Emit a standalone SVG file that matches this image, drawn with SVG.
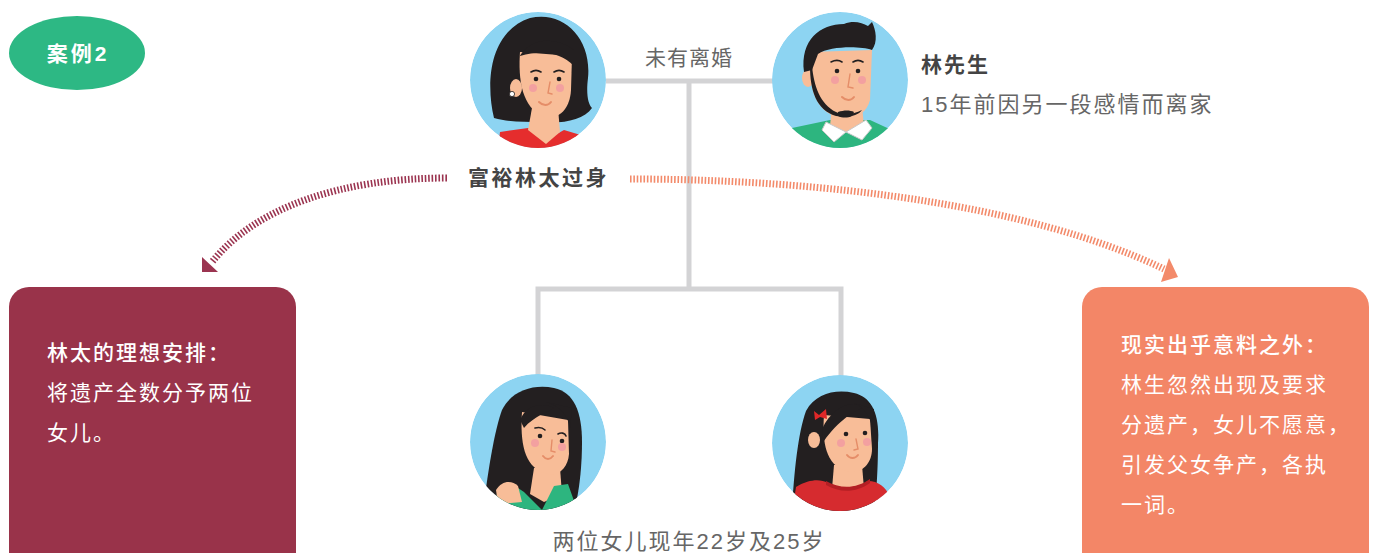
<svg xmlns="http://www.w3.org/2000/svg" width="1375" height="553" viewBox="0 0 1375 553">
  <style>
    .txt { font-family: "Liberation Sans", "Noto Sans CJK SC", sans-serif; }
    .gray { fill: #666; }
    .dark { fill: #444; font-weight: bold; }
    .white { fill: #fff; }
    .link { fill: none; stroke: #d3d3d5; stroke-width: 5; }
    .bg { fill: #8dd4f2; }
    .hair { fill: #231f20; }
    .skin { fill: #f8bd98; }
    .cheek { fill: #f3a0a0; }
    .eye { fill: #231f20; }
    .nose { fill: none; stroke: #e58d68; stroke-width: 1.4; stroke-linecap: round; }
    .mouth { fill: none; stroke: #e58d68; stroke-width: 2; stroke-linecap: round; }
    .brow { fill: none; stroke: #231f20; stroke-width: 1.6; stroke-linecap: round; }
  </style>
  <defs>
    <clipPath id="clip"><circle cx="0" cy="0" r="68"/></clipPath>
  </defs>

  <!-- badge -->
  <g id="badge">
    <ellipse cx="77" cy="53" rx="68" ry="37" fill="#2db884"/>
    <text class="txt white" x="78" y="61" font-size="21" font-weight="bold" text-anchor="middle" letter-spacing="3">案例2</text>
  </g>

  <!-- family tree lines -->
  <g id="connectors">
    <path class="link" d="M606,81 H774"/>
    <path class="link" d="M689,81 V289"/>
    <path class="link" d="M538,376 V289 H841 V376"/>
    <path d="M447,178 C340,178 255,208 212,262" fill="none" stroke="#9b3450" stroke-width="7" stroke-dasharray="1.6 1.8"/>
    <polygon points="202,257 202,272 218,272" fill="#9b3450"/>
    <path d="M630,179 C800,179 1020,200 1164,269" fill="none" stroke="#f38a6a" stroke-width="7" stroke-dasharray="1.6 1.8"/>
    <polygon points="1169,258 1178,277 1161,282" fill="#f38a6a"/>
  </g>

  <text class="txt gray" x="689" y="65" font-size="21" text-anchor="middle" letter-spacing="1">未有离婚</text>

  <!-- mother -->
  <g id="mother" transform="translate(538,80)">
    <g clip-path="url(#clip)">
      <circle class="bg" r="68"/>
      <path class="hair" d="M-44,38 C-52,5 -50,-48 -8,-62 C25,-70 54,-42 50,-2 C48,14 50,24 54,28 C46,40 24,44 4,42 C-14,42 -30,42 -44,38 Z"/>
      <path d="M-40,70 L-38,52 L-10,48 L8,60 L26,50 L46,56 L48,70 Z" fill="#e52d2d"/>
      <path class="skin" d="M-6,28 L20,28 L22,52 L8,64 L-10,50 Z"/>
      <path class="skin" d="M-18,-28 C-20,0 -16,28 6,37 C22,40 32,28 33,10 L34,-24 Z"/>
      <ellipse class="skin" cx="-22" cy="8" rx="6" ry="9"/>
      <circle cx="-26" cy="14" r="2.6" fill="#fff" stroke="#231f20" stroke-width="0.8"/>
      <path class="hair" d="M-20,-20 C-12,-40 14,-46 36,-30 L36,-14 C22,-28 4,-30 -18,-24 Z"/>
      <path class="brow" d="M-7,-8 C-4,-10 0,-10 3,-8"/>
      <path class="brow" d="M16,-8 C19,-10 23,-10 26,-8"/>
      <circle class="eye" cx="-2" cy="-1" r="2.3"/>
      <circle class="eye" cx="21" cy="-1" r="2.3"/>
      <circle class="cheek" cx="-5" cy="8" r="4"/>
      <circle class="cheek" cx="22" cy="8" r="4"/>
      <path class="nose" d="M12,2 L10,13 L14,14"/>
      <path class="mouth" d="M1,22 C5,26 10,26 13,22"/>
    </g>
  </g>
  <text class="txt dark" x="468" y="185" font-size="21" letter-spacing="2.5">富裕林太过身</text>

  <!-- father -->
  <g id="father" transform="translate(840,80)">
    <g clip-path="url(#clip)">
      <circle class="bg" r="68"/>
      <path d="M-60,70 L-48,48 L-10,40 L30,40 L56,52 L64,70 Z" fill="#2db57f"/>
      <path class="skin" d="M-8,26 L22,26 L24,46 L6,52 L-10,46 Z"/>
      <path d="M-14,42 L6,52 L-6,62 L-18,50 Z M26,40 L6,52 L22,60 L32,48 Z" fill="#fff" stroke="#c8c8c8" stroke-width="1"/>
      <path class="skin" d="M-30,-28 C-32,5 -26,28 -6,36 C10,42 26,36 30,20 L32,-30 Z"/>
      <ellipse class="skin" cx="-32" cy="-2" rx="6" ry="9"/>
      <path class="hair" d="M-36,-8 C-40,-40 -20,-56 4,-56 C14,-60 22,-57 28,-54 L32,-58 C36,-50 38,-38 32,-30 C20,-34 -10,-34 -22,-26 L-28,-10 Z"/>
      <path d="M-30,-14 C-30,10 -24,30 -4,36 C8,38 18,36 22,30 C14,34 4,36 -4,32 C-20,24 -26,6 -28,-14 Z" fill="#231f20"/>
      <path d="M-2,32 C4,30 10,30 14,32 L12,36 C8,38 2,38 -2,36 Z" fill="#231f20"/>
      <path class="brow" d="M-9,-18 C-5,-20 -1,-20 2,-18"/>
      <path class="brow" d="M13,-18 C16,-20 20,-20 23,-18"/>
      <circle class="eye" cx="-3" cy="-9" r="2.3"/>
      <circle class="eye" cx="18" cy="-9" r="2.3"/>
      <circle class="cheek" cx="-5" cy="0" r="4"/>
      <circle class="cheek" cx="22" cy="0" r="4"/>
      <path class="nose" d="M10,-6 L8,7 L13,8"/>
      <path class="mouth" d="M2,17 C6,21 11,21 14,17"/>
    </g>
  </g>
  <text class="txt dark" x="921" y="72" font-size="21" letter-spacing="2">林先生</text>
  <text class="txt gray" x="921" y="112" font-size="22" letter-spacing="2">15年前因另一段感情而离家</text>

  <!-- elder daughter -->
  <g id="daughter1" transform="translate(538,442)">
    <g clip-path="url(#clip)">
      <circle class="bg" r="68"/>
      <path class="hair" d="M-55,68 C-50,30 -44,-10 -36,-32 C-26,-52 -4,-58 16,-54 C36,-50 44,-30 44,0 C44,30 40,56 36,68 Z"/>
      <path class="skin" d="M-4,26 L22,26 L24,52 L6,60 L-8,52 Z"/>
      <path d="M-44,70 L-40,46 L-26,42 L-14,50 L4,68 L16,44 L30,42 L40,70 Z" fill="#2db57f"/>
      <path class="skin" d="M-42,48 C-36,38 -26,38 -20,44 L-16,60 L-40,62 Z"/>
      <path class="skin" d="M-16,-30 C-18,0 -14,24 6,31 C20,36 30,26 31,12 L30,-22 Z"/>
      <path class="hair" d="M-18,-22 C-12,-38 6,-40 16,-34 C10,-30 -4,-26 -14,-14 Z"/>
      <path class="hair" d="M8,-40 C22,-36 30,-26 32,-14 L34,-34 Z"/>
      <path class="brow" d="M-3,-14 C1,-15 5,-14 7,-12"/>
      <path class="brow" d="M20,-8 C23,-10 27,-9 28,-6"/>
      <circle class="eye" cx="2" cy="-6" r="2.3"/>
      <circle class="eye" cx="24" cy="-1" r="2.3"/>
      <circle class="cheek" cx="-3" cy="1" r="4"/>
      <circle class="cheek" cx="24" cy="5" r="4"/>
      <path class="nose" d="M14,-2 L13,9 L17,10"/>
      <path class="mouth" d="M5,14 C8,18 12,18 15,14"/>
    </g>
  </g>

  <!-- younger daughter -->
  <g id="daughter2" transform="translate(840,443)">
    <g clip-path="url(#clip)">
      <circle class="bg" r="68"/>
      <path class="hair" d="M-48,68 C-46,30 -42,-10 -34,-32 C-24,-50 -4,-54 14,-50 C32,-46 40,-28 38,0 C38,30 36,56 34,68 Z"/>
      <path class="skin" d="M-6,22 L22,22 L24,46 L8,54 L-8,46 Z"/>
      <path d="M-48,70 L-44,44 C-30,36 -20,36 -12,40 C0,46 16,46 28,38 C38,38 46,44 50,54 L52,70 Z" fill="#d62b2f"/>
      <path d="M-14,38 C0,46 16,46 30,36 L30,40 C16,50 0,50 -14,42 Z" fill="#b41f24"/>
      <path class="skin" d="M-16,-28 C-18,0 -14,22 6,28 C22,32 32,20 32,6 L30,-24 Z"/>
      <ellipse class="skin" cx="-26" cy="-3" rx="6" ry="8"/>
      <path class="hair" d="M-18,-14 C-8,-36 12,-44 24,-36 C14,-32 -2,-22 -16,-2 Z"/>
      <path class="hair" d="M14,-40 C24,-36 30,-26 32,-16 L34,-34 Z"/>
      <path d="M-26,-32 L-21,-28 L-14,-34 L-13,-24 L-20,-26 L-25,-23 Z" fill="#e02828"/>
      <circle class="eye" cx="6" cy="-9" r="2.3"/>
      <circle class="eye" cx="25" cy="-10" r="2.3"/>
      <circle class="cheek" cx="1" cy="0" r="4"/>
      <circle class="cheek" cx="27" cy="-1" r="4"/>
      <path class="nose" d="M16,-4 L18,6 L14,7"/>
      <path class="mouth" d="M7,12 C10,16 15,16 18,12"/>
    </g>
  </g>
  <text class="txt gray" x="689" y="549" font-size="22" text-anchor="middle" letter-spacing="2">两位女儿现年22岁及25岁</text>

  <!-- left outcome box -->
  <g id="planBox">
    <rect x="9" y="287" width="287" height="300" rx="20" fill="#99334a"/>
    <text class="txt white" x="47" y="360" font-size="21" letter-spacing="2" font-weight="500">林太的理想安排：</text>
    <text class="txt white" x="47" y="400" font-size="21" letter-spacing="2">将遗产全数分予两位</text>
    <text class="txt white" x="47" y="440" font-size="21" letter-spacing="2">女儿。</text>
  </g>

  <!-- right outcome box -->
  <g id="realityBox">
    <rect x="1082" y="287" width="287" height="300" rx="20" fill="#f38667"/>
    <text class="txt white" x="1121" y="352" font-size="21" letter-spacing="2" font-weight="500">现实出乎意料之外：</text>
    <text class="txt white" x="1121" y="392" font-size="21" letter-spacing="2">林生忽然出现及要求</text>
    <text class="txt white" x="1121" y="432" font-size="21" letter-spacing="2">分遗产，女儿不愿意，</text>
    <text class="txt white" x="1121" y="472" font-size="21" letter-spacing="2">引发父女争产，各执</text>
    <text class="txt white" x="1121" y="512" font-size="21" letter-spacing="2">一词。</text>
  </g>
</svg>
